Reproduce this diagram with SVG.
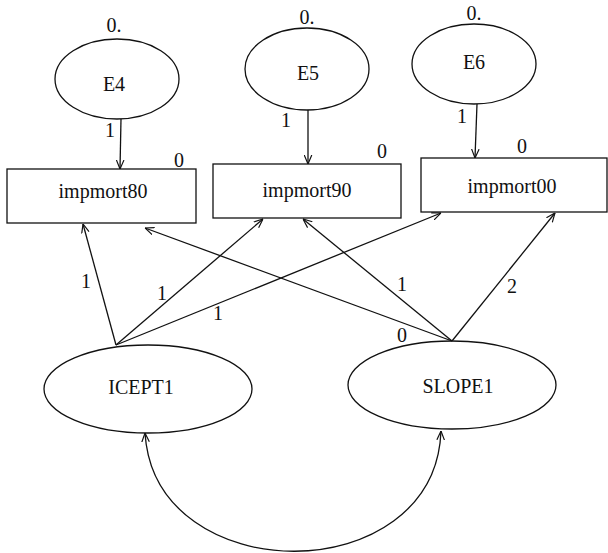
<svg xmlns="http://www.w3.org/2000/svg" width="608" height="553" viewBox="0 0 608 553">
  <style>
    .shape { fill: #ffffff; stroke: #111111; stroke-width: 1.3; }
    .edge { fill: none; stroke: #111111; stroke-width: 1.3; }
    text { font-family: "Liberation Serif", "Times New Roman", serif; font-size: 20px; fill: #111111; }
    .mid { text-anchor: middle; }
  </style>
  <defs>
    <marker id="arrow" viewBox="0 0 10 10" refX="10" refY="5" markerWidth="9" markerHeight="9" markerUnits="userSpaceOnUse" orient="auto-start-reverse">
      <path d="M0,0.8 L10,5 L0,9.2" fill="none" stroke="#111111" stroke-width="1.3"/>
    </marker>
  </defs>

  <!-- error terms -->
  <g id="E4">
    <ellipse class="shape" cx="117" cy="79" rx="62" ry="40"/>
    <text class="mid" x="114" y="91">E4</text>
    <text class="mid" x="114" y="32">0.</text>
  </g>
  <g id="E5">
    <ellipse class="shape" cx="307" cy="69" rx="62" ry="41"/>
    <text class="mid" x="308" y="80">E5</text>
    <text class="mid" x="307" y="24">0.</text>
  </g>
  <g id="E6">
    <ellipse class="shape" cx="474" cy="64" rx="62" ry="40"/>
    <text class="mid" x="474" y="69">E6</text>
    <text class="mid" x="474" y="20">0.</text>
  </g>

  <!-- observed variables -->
  <g id="impmort80">
    <rect class="shape" x="7" y="169" width="189" height="54"/>
    <text class="mid" x="103" y="198">impmort80</text>
    <text class="mid" x="179" y="167">0</text>
  </g>
  <g id="impmort90">
    <rect class="shape" x="213" y="164" width="188" height="54"/>
    <text class="mid" x="307" y="197">impmort90</text>
    <text class="mid" x="382" y="158">0</text>
  </g>
  <g id="impmort00">
    <rect class="shape" x="421" y="158" width="186" height="54"/>
    <text class="mid" x="512" y="193">impmort00</text>
    <text class="mid" x="522" y="153">0</text>
  </g>

  <!-- growth factors -->
  <g id="ICEPT1">
    <ellipse class="shape" cx="148" cy="389" rx="104" ry="44"/>
    <text class="mid" x="141" y="394">ICEPT1</text>
  </g>
  <g id="SLOPE1">
    <ellipse class="shape" cx="452" cy="385" rx="104" ry="44"/>
    <text class="mid" x="458" y="393">SLOPE1</text>
  </g>

  <!-- paths -->
  <g id="connectors">
    <line class="edge" x1="121" y1="119" x2="120" y2="169" marker-end="url(#arrow)"/>
    <line class="edge" x1="308" y1="110" x2="308" y2="164" marker-end="url(#arrow)"/>
    <line class="edge" x1="477" y1="104" x2="475" y2="158" marker-end="url(#arrow)"/>

    <line class="edge" x1="116" y1="345" x2="83" y2="224" marker-end="url(#arrow)"/>
    <line class="edge" x1="116" y1="345" x2="263" y2="219" marker-end="url(#arrow)"/>
    <line class="edge" x1="116" y1="345" x2="441" y2="213" marker-end="url(#arrow)"/>

    <line class="edge" x1="452" y1="341" x2="145" y2="228" marker-end="url(#arrow)"/>
    <line class="edge" x1="452" y1="341" x2="303" y2="219" marker-end="url(#arrow)"/>
    <line class="edge" x1="452" y1="341" x2="555" y2="213" marker-end="url(#arrow)"/>

    <path class="edge" d="M145,433 C155,591 435,591 441,431" marker-start="url(#arrow)" marker-end="url(#arrow)"/>
  </g>

  <!-- path coefficients -->
  <g id="edge-labels">
    <text class="mid" x="110" y="137">1</text>
    <text class="mid" x="286" y="127">1</text>
    <text class="mid" x="462" y="123">1</text>
    <text class="mid" x="86" y="288">1</text>
    <text class="mid" x="162" y="300">1</text>
    <text class="mid" x="218" y="320">1</text>
    <text class="mid" x="402" y="291">1</text>
    <text class="mid" x="402" y="342">0</text>
    <text class="mid" x="512" y="293">2</text>
  </g>
</svg>
